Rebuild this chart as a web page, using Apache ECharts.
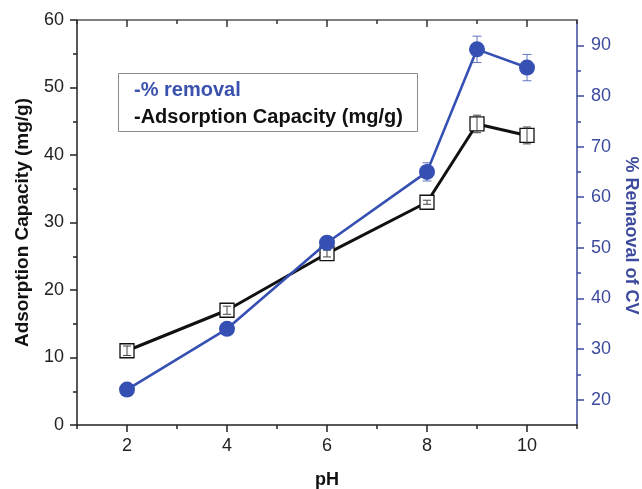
<!DOCTYPE html>
<html>
<head>
<meta charset="utf-8">
<script src="https://cdn.jsdelivr.net/npm/echarts@6/dist/echarts.min.js"></script>
<style>
html,body{margin:0;padding:0;background:#fff;}
#chart{width:642px;height:489px;}
</style>
</head>
<body>
<div id="chart"></div>
<script>
// ---- data ----
const phValues = [2, 4, 6, 8, 9, 10];
const adsorption = [11.0, 17.0, 25.4, 33.0, 44.6, 42.9];
const adsorptionErr = [0.7, 0.6, 0.5, 0.3, 1.3, 1.25];
const removal = [22.0, 34.0, 51.0, 65.0, 89.2, 85.6];
const removalErr = [0.4, 0.4, 0.8, 1.8, 2.6, 2.6];
const xMajorTicks = [2, 4, 6, 8, 10];
const xMinorTicks = [1, 3, 5, 7, 9, 11];
const rightMajorTicks = [20, 30, 40, 50, 60, 70, 80, 90];
const rightMinorTicks = [25, 35, 45, 55, 65, 75, 85];
const legendLabels = ['-% removal', '-Adsorption Capacity (mg/g)'];

const FONT = "'Liberation Sans', Arial, sans-serif";
const BLUE = '#3550b2';
const BLUE_AXIS = '#3d4a9e';
const BLACK = '#111';

const chart = echarts.init(document.getElementById('chart'), null, {renderer: 'canvas'});

function errRender(color, capW, lw) {
  return function (params, api) {
    const x = api.value(0), y = api.value(1), e = api.value(2);
    const top = api.coord([x, y + e]);
    const bot = api.coord([x, y - e]);
    const hw = capW / 2;
    const st = {stroke: color, lineWidth: lw};
    return {
      type: 'group',
      children: [
        {type: 'line', shape: {x1: top[0], y1: top[1], x2: bot[0], y2: bot[1]}, style: st},
        {type: 'line', shape: {x1: top[0] - hw, y1: top[1], x2: top[0] + hw, y2: top[1]}, style: st},
        {type: 'line', shape: {x1: bot[0] - hw, y1: bot[1], x2: bot[0] + hw, y2: bot[1]}, style: st}
      ]
    };
  };
}

const hiddenX = {
  type: 'value', min: 1, max: 11, gridIndex: 0,
  axisLabel: {show: false}, splitLine: {show: false}
};

const option = {
  backgroundColor: '#fff',
  animation: false,
  textStyle: {fontFamily: FONT},
  grid: {left: 77, right: 65, top: 20, bottom: 64, containLabel: false, outerBoundsMode: 'none'},
  xAxis: [
    {
      type: 'value', min: 1, max: 11, position: 'bottom',
      name: 'pH', nameLocation: 'middle', nameGap: 46,
      nameTextStyle: {fontSize: 18, fontWeight: 'bold', color: BLACK, fontFamily: FONT},
      axisLine: {onZero: false, lineStyle: {color: '#222', width: 1.5}},
      axisTick: {show: true, inside: false, length: 7, customValues: xMajorTicks, lineStyle: {color: '#222', width: 1.5}},
      axisLabel: {customValues: xMajorTicks, fontSize: 18, color: '#222', margin: 12, fontFamily: FONT},
      splitLine: {show: false}
    },
    Object.assign({}, hiddenX, {
      position: 'bottom',
      axisLine: {show: false, onZero: false},
      axisTick: {show: true, inside: false, length: 4, customValues: xMinorTicks, lineStyle: {color: '#222', width: 1.5}}
    }),
    Object.assign({}, hiddenX, {
      position: 'top',
      axisLine: {show: true, onZero: false, lineStyle: {color: '#555', width: 1.5}},
      axisTick: {show: true, inside: true, length: 7, customValues: xMajorTicks, lineStyle: {color: '#333', width: 1.5}}
    }),
    Object.assign({}, hiddenX, {
      position: 'top',
      axisLine: {show: false, onZero: false},
      axisTick: {show: true, inside: true, length: 4, customValues: xMinorTicks, lineStyle: {color: '#333', width: 1.5}}
    })
  ],
  yAxis: [
    {
      type: 'value', min: 0, max: 60, interval: 10, position: 'left',
      name: 'Adsorption Capacity (mg/g)', nameLocation: 'middle', nameGap: 45,
      nameTextStyle: {fontSize: 19, fontWeight: 'bold', color: BLACK, fontFamily: FONT},
      axisLine: {show: true, onZero: false, lineStyle: {color: '#222', width: 1.5}},
      axisTick: {show: true, inside: false, length: 7, lineStyle: {color: '#222', width: 1.5}},
      minorTick: {show: true, splitNumber: 2, length: 4, lineStyle: {color: '#222', width: 1.5}},
      axisLabel: {fontSize: 18, color: '#222', margin: 13, fontFamily: FONT},
      splitLine: {show: false}, minorSplitLine: {show: false}
    },
    {
      type: 'value', min: 15, max: 95, position: 'right', offset: 0,
      name: '% Remaoval of CV', nameLocation: 'middle', nameGap: 44, nameRotate: -90,
      nameTextStyle: {fontSize: 18, fontWeight: 'bold', color: BLUE_AXIS, fontFamily: FONT, padding: [0, 0, 0, 26]},
      axisLine: {show: true, onZero: false, lineStyle: {color: BLUE_AXIS, width: 1.5}},
      axisTick: {show: true, inside: false, length: 7, customValues: rightMajorTicks, lineStyle: {color: BLUE_AXIS, width: 1.5}},
      axisLabel: {customValues: rightMajorTicks, fontSize: 18, color: BLUE_AXIS, margin: 14, fontFamily: FONT},
      splitLine: {show: false}
    },
    {
      type: 'value', min: 15, max: 95, position: 'right', offset: 0,
      axisLine: {show: false, onZero: false},
      axisTick: {show: true, inside: false, length: 4, customValues: rightMinorTicks, lineStyle: {color: BLUE_AXIS, width: 1.5}},
      axisLabel: {show: false},
      splitLine: {show: false}
    }
  ],
  series: [
    {
      name: legendLabels[1], type: 'line', xAxisIndex: 0, yAxisIndex: 0, z: 2,
      data: phValues.map((x, i) => [x, adsorption[i]]),
      symbol: 'rect', symbolSize: 14,
      lineStyle: {color: BLACK, width: 3},
      itemStyle: {color: '#fff', borderColor: BLACK, borderWidth: 1.3}
    },
    {
      name: 'adsErr', type: 'custom', xAxisIndex: 0, yAxisIndex: 0, z: 3,
      renderItem: errRender('#444', 8, 1),
      encode: {x: 0, y: 1},
      data: phValues.map((x, i) => [x, adsorption[i], adsorptionErr[i]])
    },
    {
      name: 'remErr', type: 'custom', xAxisIndex: 0, yAxisIndex: 1, z: 4,
      renderItem: errRender('#6474c2', 9, 1),
      encode: {x: 0, y: 1},
      data: phValues.map((x, i) => [x, removal[i], removalErr[i]])
    },
    {
      name: legendLabels[0], type: 'line', xAxisIndex: 0, yAxisIndex: 1, z: 5,
      data: phValues.map((x, i) => [x, removal[i]]),
      symbol: 'circle', symbolSize: 16,
      lineStyle: {color: BLUE, width: 2.6},
      itemStyle: {color: BLUE, borderWidth: 0}
    }
  ],
  graphic: [
    {
      type: 'rect', left: 118, top: 73, z: 10,
      shape: {width: 299, height: 58},
      style: {fill: '#fff', stroke: '#8a8a8a', lineWidth: 1}
    },
    {
      type: 'text', left: 134, top: 80, z: 11,
      style: {text: legendLabels[0], fill: '#3a52ae', font: 'bold 20px ' + FONT}
    },
    {
      type: 'text', left: 134, top: 107, z: 11,
      style: {text: legendLabels[1], fill: BLACK, font: 'bold 20px ' + FONT}
    }
  ]
};
chart.setOption(option);
</script>
</body>
</html>
